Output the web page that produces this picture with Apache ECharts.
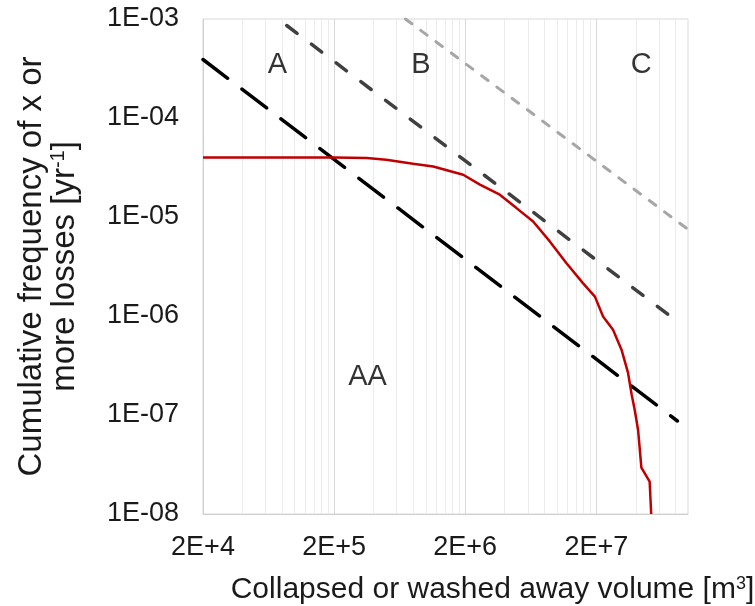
<!DOCTYPE html>
<html><head><meta charset="utf-8">
<script src="https://cdn.jsdelivr.net/npm/echarts@6/dist/echarts.min.js"></script>
<style>html,body{margin:0;padding:0;background:#fff}#c{width:755px;height:606px}</style>
</head><body><div id="c"></div>
<script>
// ---- data ----
const xTickValues = [2e4, 2e5, 2e6, 2e7];
const yTickValues = [1e-8, 1e-7, 1e-6, 1e-5, 1e-4, 1e-3];

const redX = [2.0e4, 2.0e5, 3.55e5, 5.0e5, 8.0e5, 1.14e6, 1.93e6, 2.59e6, 3.67e6, 4.92e6, 6.59e6, 8.83e6, 1.18e7, 1.58e7, 1.95e7, 2.25e7, 2.68e7, 3.11e7, 3.49e7, 3.72e7, 3.92e7, 4.16e7, 4.41e7, 5.10e7, 5.24e7];
const redY = [4.0e-5, 4.0e-5, 3.95e-5, 3.79e-5, 3.45e-5, 3.24e-5, 2.67e-5, 2.12e-5, 1.68e-5, 1.23e-5, 9.0e-6, 5.67e-6, 3.43e-6, 2.15e-6, 1.57e-6, 9.9e-7, 7.27e-7, 4.57e-7, 2.66e-7, 1.60e-7, 1.13e-7, 7.1e-8, 2.94e-8, 2.12e-8, 1.0e-8];

const blackX = [2.0e4, 8.3e7];
const blackY = [3.9e-4, 8.7e-8];
const darkX = [8.7e4, 8.3e7];
const darkY = [8.6e-4, 8.8e-7];
const lightX = [7.0e5, 1.0e8];
const lightY = [1.0e-3, 7.5e-6];

const zoneNames = ['A', 'B', 'C', 'AA'];
const zoneX = [7.4e4, 9.2e5, 4.4e7, 3.6e5];
const zoneY = [3.45e-4, 3.45e-4, 3.45e-4, 2.4e-7];

// ---- gridline values (Excel-style log minor grid) ----
const xMajor = [2e5, 2e6, 2e7];
const xMinor = [];
[2e4, 2e5, 2e6, 2e7].forEach(d => { for (let k = 2; k <= 9; k++) { const v = d * k; if (v < 1e8 - 1) xMinor.push(v); } });
const yMajor = [1e-7, 1e-6, 1e-5, 1e-4];
const yMinor = [];
[1e-8, 1e-7, 1e-6, 1e-5, 1e-4].forEach(d => { for (let k = 2; k <= 9; k++) yMinor.push(d * k); });

const zip = (a, b) => a.map((v, i) => [v, b[i]]);
const FONT = 'Liberation Sans';
const TXT = '#1a1a1a';

function fmtX(v) {
  const e = Math.floor(Math.log10(v) + 1e-9);
  const m = Math.round(v / Math.pow(10, e));
  return m + 'E+' + e;
}
function fmtY(v) {
  const e = Math.round(Math.log10(v));
  const a = Math.abs(e);
  return '1E' + (e < 0 ? '-' : '+') + (a < 10 ? '0' + a : a);
}
function gridSeries(items, color) {
  return {
    type: 'line', data: [], silent: true, z: 1,
    markLine: {
      silent: true, z: 1, symbol: ['none', 'none'], animation: false,
      label: { show: false }, emphasis: { disabled: true },
      lineStyle: { color: color, width: 1, type: 'solid' },
      data: items
    }
  };
}

const chart = echarts.init(document.getElementById('c'), null, { renderer: 'canvas' });
chart.setOption({
  animation: false,
  backgroundColor: '#fff',
  grid: { left: 203, right: 67, top: 19, bottom: 92, containLabel: false, outerBoundsMode: 'none',
    show: true, borderColor: '#d9d9d9', borderWidth: 1, backgroundColor: '#fff' },
  xAxis: {
    type: 'log', logBase: 10, min: 2e4, max: 1e8,
    axisLine: { show: true, lineStyle: { color: '#d0d0d0', width: 1 } },
    axisTick: { show: false, customValues: xTickValues },
    splitLine: { show: false }, minorSplitLine: { show: false },
    axisLabel: { customValues: xTickValues, formatter: fmtX, fontSize: 27, color: TXT, fontFamily: FONT, margin: 20, showMinLabel: true, showMaxLabel: true },
    name: 'Collapsed or washed away volume [m{sup|3}]',
    nameLocation: 'middle', nameGap: 61,
    nameTextStyle: { fontSize: 30, color: TXT, fontFamily: FONT, padding: [0, 0, 0, 94],
      rich: { sup: { fontSize: 18, color: TXT, fontFamily: FONT, padding: [0, 0, 12, 0] } } }
  },
  yAxis: {
    type: 'log', logBase: 10, min: 1e-8, max: 1e-3,
    axisLine: { show: true, lineStyle: { color: '#d0d0d0', width: 1 } },
    axisTick: { show: false, customValues: yTickValues },
    splitLine: { show: false }, minorSplitLine: { show: false },
    axisLabel: { customValues: yTickValues, formatter: fmtY, fontSize: 27, color: TXT, fontFamily: FONT, margin: 24, showMinLabel: true, showMaxLabel: true },
    name: 'Cumulative frequency of x or\nmore losses [yr{sup|-1}]',
    nameLocation: 'middle', nameGap: 122, nameRotate: 90,
    nameTextStyle: { fontSize: 33, color: TXT, fontFamily: FONT, lineHeight: 33, align: 'center',
      rich: { sup: { fontSize: 20, color: TXT, fontFamily: FONT, padding: [0, 0, 13, 0] } } }
  },
  series: [
    gridSeries(xMinor.map(v => ({ xAxis: v })).concat(yMinor.map(v => ({ yAxis: v }))), '#ebebeb'),
    gridSeries(xMajor.map(v => ({ xAxis: v })).concat(yMajor.map(v => ({ yAxis: v }))), '#d9d9d9'),
    { type: 'line', data: zip(lightX, lightY), symbol: 'none', z: 3, clip: true,
      lineStyle: { color: '#a6a6a6', width: 3, type: [8, 11], cap: 'round' } },
    { type: 'line', data: zip(darkX, darkY), symbol: 'none', z: 3, clip: true,
      lineStyle: { color: '#404040', width: 3.5, type: [13, 18], cap: 'round' } },
    { type: 'line', data: zip(blackX, blackY), symbol: 'none', z: 3, clip: true,
      lineStyle: { color: '#000', width: 3.5, type: [31, 18], cap: 'round' } },
    { type: 'line', data: zip(redX, redY), symbol: 'none', z: 4, clip: true,
      lineStyle: { color: '#c00000', width: 2.5 } },
    { type: 'scatter', z: 5, symbolSize: 1, itemStyle: { color: 'rgba(0,0,0,0)' },
      data: zoneNames.map((n, i) => ({ name: n, value: [zoneX[i], zoneY[i]] })),
      label: { show: true, position: 'inside', formatter: '{b}', fontSize: 29, color: '#000', fontFamily: FONT } }
  ]
});
</script>
</body></html>
